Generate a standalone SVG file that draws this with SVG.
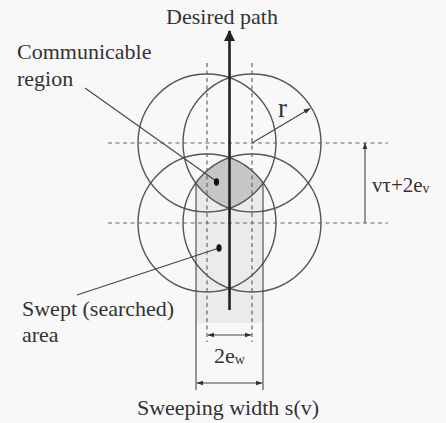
<svg xmlns="http://www.w3.org/2000/svg" width="446" height="423" viewBox="0 0 446 423">
<defs>
<style>
text{font-family:"Liberation Serif","DejaVu Serif","Times New Roman",serif;fill:#333;}
.t{font-size:22px;}
.circ{fill:none;stroke:#555;stroke-width:1.4;}
.dash{fill:none;stroke:#666;stroke-width:1.2;stroke-dasharray:4 3.5;}
.thin{fill:none;stroke:#444;stroke-width:1.1;}
</style>
<marker id="ah" viewBox="0 0 10 10" refX="9" refY="5" markerWidth="7" markerHeight="7" orient="auto-start-reverse" markerUnits="userSpaceOnUse">
<path d="M0,1.5 L10,5 L0,8.5 Z" fill="#333"/>
</marker>
<marker id="big" viewBox="0 0 10 10" refX="9" refY="5" markerWidth="12" markerHeight="11" orient="auto" markerUnits="userSpaceOnUse">
<path d="M0,0 L10,5 L0,10 Z" fill="#222"/>
</marker>
</defs>
<rect width="446" height="423" fill="#f8f8f8"/>

<g id="swept-area">
<rect x="196" y="183" width="67" height="140" fill="#ebebeb"/>
</g>
<g id="communicable-region">
<path d="M229.5,157.77 A69,69 0 0 0 195.78,183 A69,69 0 0 0 229.5,208.23 A69,69 0 0 0 263.22,183 A69,69 0 0 0 229.5,157.77 Z" fill="#c6c6c6"/>
</g>

<g id="circles">
<circle class="circ" cx="207" cy="143" r="69"/>
<circle class="circ" cx="252" cy="143" r="69"/>
<circle class="circ" cx="207" cy="223" r="69"/>
<circle class="circ" cx="252" cy="223" r="69"/>
</g>

<g id="connectors">
<line class="dash" x1="108" y1="143" x2="388" y2="143"/>
<line class="dash" x1="108" y1="223" x2="388" y2="223"/>
<line class="dash" x1="207" y1="63" x2="207" y2="342"/>
<line class="dash" x1="252" y1="63" x2="252" y2="342"/>
<line class="thin" x1="196" y1="183" x2="196" y2="390"/>
<line class="thin" x1="263" y1="183" x2="263" y2="390"/>
<line x1="229.5" y1="310" x2="229.5" y2="31" stroke="#222" stroke-width="2.6" marker-end="url(#big)"/>
<line class="thin" x1="252" y1="143" x2="310" y2="108.5" marker-end="url(#ah)"/>
<line class="thin" x1="365" y1="223" x2="365" y2="143" marker-end="url(#ah)"/>
<line class="thin" x1="208" y1="335" x2="251" y2="335" marker-start="url(#ah)" marker-end="url(#ah)"/>
<line class="thin" x1="197" y1="383" x2="262" y2="383" marker-start="url(#ah)" marker-end="url(#ah)"/>
<line class="thin" x1="85" y1="88" x2="216" y2="181"/>
<line class="thin" x1="77" y1="295" x2="219" y2="248"/>
<ellipse cx="216.5" cy="182" rx="2.6" ry="3.8" fill="#111"/>
<ellipse cx="219" cy="248" rx="2.6" ry="3.8" fill="#111"/>
</g>

<g id="labels" font-family="Liberation Serif, DejaVu Serif, serif">
<text class="t" x="222" y="24" text-anchor="middle">Desired path</text>
<text class="t" x="17" y="59">Communicable</text>
<text class="t" x="17" y="86">region</text>
<text class="t" x="22" y="316">Swept (searched)</text>
<text class="t" x="22" y="342">area</text>
<text x="278" y="117" style="font-size:27px">r</text>
<text x="372" y="192" style="font-size:21px">vτ+2e<tspan style="font-size:14px" dy="1">v</tspan></text>
<text x="214" y="363" style="font-size:22px">2e<tspan style="font-size:14px" dy="1">w</tspan></text>
<text class="t" x="228" y="415" text-anchor="middle">Sweeping width s(v)</text>
</g>
</svg>
